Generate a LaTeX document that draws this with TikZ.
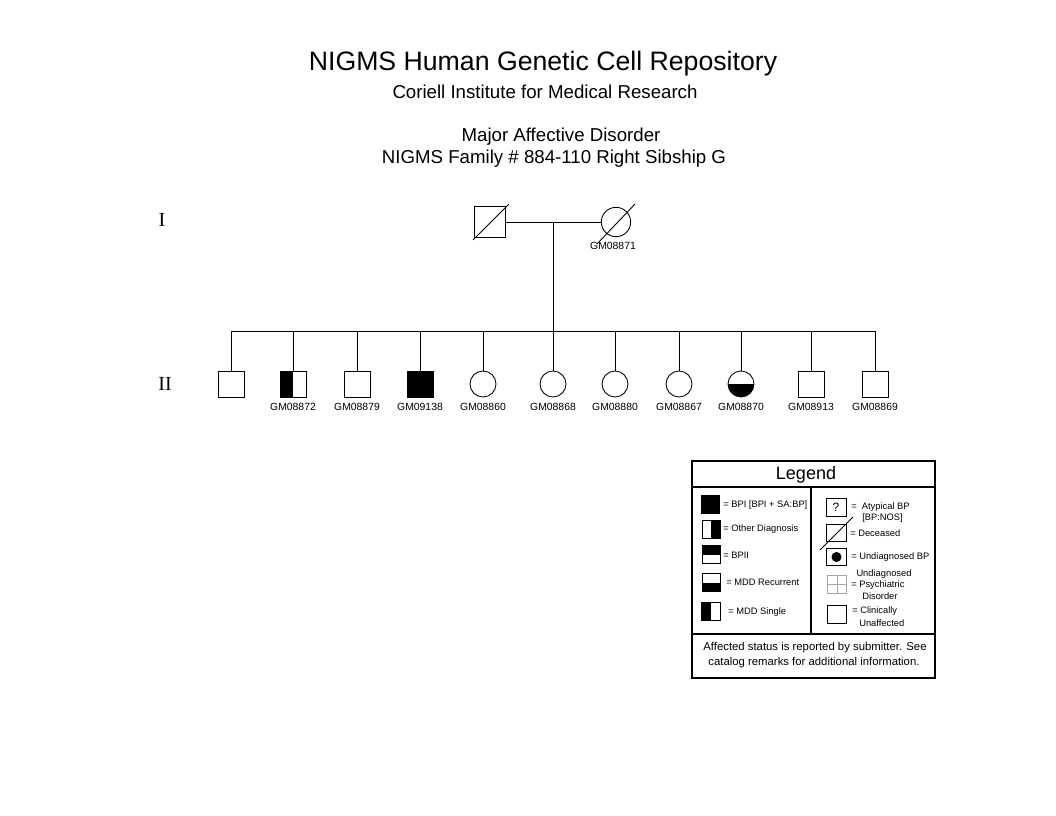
\documentclass[tikz,border=0pt]{standalone}
\usepackage{fontspec}
\setmainfont{Liberation Sans}
\newfontfamily\serifnum{Liberation Serif}
\usetikzlibrary{calc}
\begin{document}
\begin{tikzpicture}[x=0.75pt,y=-0.75pt,
  ln/.style={line width=0.65pt},
  msq/.style={draw,rectangle,minimum size=19.5pt,inner sep=0pt,line width=0.65pt},
  fcirc/.style={draw,circle,minimum size=19.5pt,inner sep=0pt,line width=0.65pt},
  bigsq/.style={draw,rectangle,minimum size=23pt,inner sep=0pt,line width=0.65pt},
  bigcirc/.style={draw,circle,minimum size=22pt,inner sep=0pt,line width=0.65pt},
  leftblack/.style={path picture={\fill[black] (path picture bounding box.south west) rectangle (path picture bounding box.north);}},
  bottomblack/.style={path picture={\fill[black] (path picture bounding box.south west) rectangle (path picture bounding box.east);}},
  topblack/.style={path picture={\fill[black] (path picture bounding box.north west) rectangle (path picture bounding box.east);}},
  rightblack/.style={path picture={\fill[black] (path picture bounding box.south) rectangle (path picture bounding box.north east);}},
  lsq/.style={draw,rectangle,minimum width=13.5pt,minimum height=13pt,inner sep=0pt,line width=0.7pt},
  gm/.style={font=\fontsize{7.8}{9}\selectfont,inner sep=0pt},
  lt/.style={font=\fontsize{7}{8}\selectfont,inner sep=0pt,anchor=west},
  rn/.style={font=\serifnum\fontsize{15}{17}\selectfont,inner sep=0pt}]
\useasboundingbox (0,0) rectangle (1056,816);
\fill[white] (0,0) rectangle (1056,816);
% titles
\node (t1) at (543,64) {\fontsize{20}{24}\selectfont NIGMS Human Genetic Cell Repository};
\node (t2) at (545,92) {\fontsize{14}{16}\selectfont Coriell Institute for Medical Research};
\node (t3) at (561,137) {\fontsize{14}{16}\selectfont Major Affective Disorder};
\node (t4) at (554,159) {\fontsize{14}{16}\selectfont NIGMS Family \# 884-110 Right Sibship G};
\node[rn] (g1) at (162,220) {I};
\node[rn] (g2) at (165,384) {II};
% generation I
\node[bigsq] (f) at (490,222) {};
\node[bigcirc] (m) at (616,222) {};
\draw[ln] ($(f.center)+(-17,18)$) -- ($(f.center)+(19,-18)$);
\draw[ln] ($(m.center)+(-19,22)$) -- ($(m.center)+(19,-18)$);
\node[gm] (lm) at (613,246) {GM08871};
\coordinate (mar) at (553,222);
\coordinate (sib) at (553,331);
\draw[ln] (f.east) -- (m.west);
\draw[ln] (mar) -- (sib);
\coordinate (sibL) at (231,331);
\coordinate (sibR) at (875,331);
\draw[ln] (sibL) -- (sibR);
% generation II
\node[msq] (c1) at (231,384) {};
\node[msq,leftblack] (c2) at (293,384) {};
\node[msq] (c3) at (357,384) {};
\node[msq,fill=black] (c4) at (420,384) {};
\node[fcirc] (c5) at (483,384) {};
\node[fcirc] (c6) at (553,384) {};
\node[fcirc] (c7) at (615,384) {};
\node[fcirc] (c8) at (679,384) {};
\node[fcirc,bottomblack] (c9) at (741,384) {};
\node[msq] (c10) at (811,384) {};
\node[msq] (c11) at (875,384) {};
\foreach \c/\x in {c1/231,c2/293,c3/357,c4/420,c5/483,c6/553,c7/615,c8/679,c9/741,c10/811,c11/875}{
  \coordinate (s\c) at (\x,331);
  \draw[ln] (s\c) -- (\c.north);
}
\node[gm] (l2) at (293,407) {GM08872};
\node[gm] (l3) at (357,407) {GM08879};
\node[gm] (l4) at (420,407) {GM09138};
\node[gm] (l5) at (483,407) {GM08860};
\node[gm] (l6) at (553,407) {GM08868};
\node[gm] (l7) at (615,407) {GM08880};
\node[gm] (l8) at (679,407) {GM08867};
\node[gm] (l9) at (741,407) {GM08870};
\node[gm] (l10) at (811,407) {GM08913};
\node[gm] (l11) at (875,407) {GM08869};
% legend
\draw[line width=1.1pt] (692,461) rectangle (935,678);
\draw[line width=1.1pt] (692,487) -- (935,487);
\draw[line width=1.1pt] (811,487) -- (811,634);
\draw[line width=1.1pt] (692,634) -- (935,634);
\node (leg) at (806,475) {\fontsize{13.5}{15}\selectfont Legend};
\node[lsq,fill=black] (k1) at (710.5,504.5) {};
\node[lt] (k1t) at (723,505) {= BPI [BPI + SA:BP]};
\node[lsq,rightblack] (k2) at (711,529.5) {};
\node[lt] (k2t) at (723,529) {= Other Diagnosis};
\node[lsq,topblack] (k3) at (711,554.5) {};
\node[lt] (k3t) at (723,555) {= BPII};
\node[lsq,bottomblack] (k4) at (711,582.5) {};
\node[lt] (k4t) at (726,582) {= MDD Recurrent};
\node[lsq,leftblack,minimum width=14.5pt] (k5) at (711,611.5) {};
\node[lt] (k5t) at (728,612) {= MDD Single};
\node[lsq,minimum width=15pt,minimum height=14pt] (r1) at (836,507.5) {\fontsize{9}{10}\selectfont ?};
\node[lt] (r1t) at (851,507) {=\ \ Atypical BP};
\node[lt] (r1u) at (862,518) {[BP:NOS]};
\node[lsq,minimum width=15pt] (r2) at (836,533) {};
\draw[ln] ($(r2.center)+(-16,17)$) -- ($(r2.center)+(17,-16)$);
\node[lt] (r2t) at (850,533) {= Deceased};
\node[lsq,minimum width=14.5pt] (r3) at (836.5,557) {};
\fill[black] (r3.center) circle (3.8pt);
\node[lt] (r3t) at (851,557) {= Undiagnosed BP};
\node[lsq,draw=gray!70,minimum width=14pt,minimum height=13.5pt] (r4) at (837,584) {};
\draw[gray!70,line width=0.7pt] (r4.north) -- (r4.south) (r4.west) -- (r4.east);
\node[font=\fontsize{7}{8}\selectfont,inner sep=0pt] (r4a) at (884,574) {Undiagnosed};
\node[lt] (r4t) at (851,585) {= Psychiatric};
\node[lt] (r4u) at (862,596) {Disorder};
\node[lsq,minimum width=14pt] (r5) at (837,614.5) {};
\node[lt] (r5t) at (852,611) {= Clinically};
\node[lt] (r5u) at (859,623) {Unaffected};
\node[font=\fontsize{8.5}{10}\selectfont,inner sep=0pt] (ft1) at (815,648) {Affected status is reported by submitter. See};
\node[font=\fontsize{8.5}{10}\selectfont,inner sep=0pt] (ft2) at (814,663) {catalog remarks for additional information.};
\end{tikzpicture}
\end{document}
